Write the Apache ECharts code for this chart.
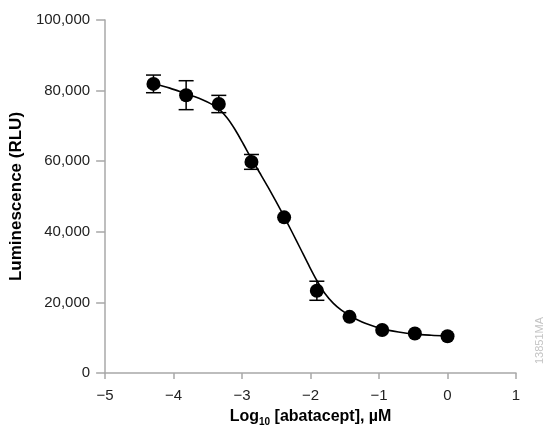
<!DOCTYPE html>
<html lang="en">
  <head>
    <meta charset="UTF-8" />
    <title>Abatacept dose response</title>
    <style>
      html,
      body {
        margin: 0;
        padding: 0;
        background: #fff;
      }

      #main {
        width: 544px;
        height: 438px;
      }
    </style>
  </head>

  <body>
    <div id="main"></div>

    <script src="https://cdn.jsdelivr.net/npm/echarts@6/dist/echarts.min.js"></script>
    <script>
      // measured points (log10 of concentration, 3-fold dilutions)
      var logConc = [-4.294, -3.817, -3.34, -2.863, -2.386, -1.908, -1.431, -0.954, -0.477, 0];
      var meanRLU = [81900, 78700, 76200, 59800, 44100, 23300, 15900, 12200, 11200, 10400];
      var errRLU = [2500, 4100, 2450, 2100, 0, 2700, 0, 0, 0, 0];

      // fitted curve
      var curveX = [-4.294, -4.055, -3.817, -3.698, -3.579, -3.46, -3.34, -3.22, -3.101, -2.98,
        -2.863, -2.745, -2.625, -2.505, -2.386, -2.267, -2.147, -2.028, -1.908, -1.79,
        -1.67, -1.55, -1.431, -1.31, -1.192, -0.954, -0.716, -0.477, -0.239, 0];
      var curveY = [82000, 80700, 79100, 78300, 77400, 76300, 74800, 72300, 68900, 64800,
        60700, 56800, 52800, 48600, 44300, 39800, 35200, 30600, 26200, 22500,
        19800, 17800, 16300, 15000, 14000, 12500, 11600, 11000, 10700, 10500];

      var xTicks = [-5, 1, 1]; // min, max, step
      var yTicks = [0, 100000, 20000];

      var axisGrey = "#a8a8a8";
      var labelFont = "'Liberation Sans', Arial, sans-serif";

      var chart = echarts.init(document.getElementById("main"), null, { renderer: "canvas" });

      var points = logConc.map((x, i) => [x, meanRLU[i]]);
      var bars = logConc
        .map((x, i) => [x, meanRLU[i] - errRLU[i], meanRLU[i] + errRLU[i]])
        .filter((d, i) => errRLU[i] > 0);
      var curve = curveX.map((x, i) => [x, curveY[i]]);

      function renderBar(params, api) {
        var lo = api.coord([api.value(0), api.value(1)]);
        var hi = api.coord([api.value(0), api.value(2)]);
        var w = 7.5;
        var style = { stroke: "#000", lineWidth: 1.5 };
        return {
          type: "group",
          children: [
            { type: "line", shape: { x1: lo[0], y1: lo[1], x2: hi[0], y2: hi[1] }, style: style },
            { type: "line", shape: { x1: lo[0] - w, y1: lo[1], x2: lo[0] + w, y2: lo[1] }, style: style },
            { type: "line", shape: { x1: hi[0] - w, y1: hi[1], x2: hi[0] + w, y2: hi[1] }, style: style }
          ]
        };
      }

      chart.setOption({
        animation: false,
        backgroundColor: "#fff",
        grid: { left: 103, right: 28, top: 20, bottom: 65 },
        xAxis: {
          type: "value",
          min: xTicks[0],
          max: xTicks[1],
          interval: xTicks[2],
          name: "{b|Log}{s|10}{b| [abatacept], µM}",
          nameLocation: "middle",
          nameGap: 34,
          nameTextStyle: {
            rich: {
              b: { fontFamily: labelFont, fontWeight: "bold", fontSize: 16, color: "#000", lineHeight: 20 },
              s: { fontFamily: labelFont, fontWeight: "bold", fontSize: 10, color: "#000", lineHeight: 20, verticalAlign: "bottom", padding: [8, 0, 0, 0] }
            }
          },
          axisLine: { onZero: false, lineStyle: { color: axisGrey, width: 1.5 } },
          axisTick: { inside: false, length: 6, lineStyle: { color: axisGrey, width: 1.5 } },
          axisLabel: {
            margin: 15,
            fontFamily: labelFont,
            fontSize: 15,
            color: "#222",
            formatter: v => (v < 0 ? "\u2212" + Math.abs(v) : String(v))
          },
          splitLine: { show: false }
        },
        yAxis: {
          type: "value",
          min: yTicks[0],
          max: yTicks[1],
          interval: yTicks[2],
          name: "Luminescence (RLU)",
          nameLocation: "middle",
          nameGap: 67,
          nameTextStyle: { fontFamily: labelFont, fontWeight: "bold", fontSize: 17, color: "#000" },
          axisLine: { show: true, onZero: false, lineStyle: { color: axisGrey, width: 1.5 } },
          axisTick: { show: true, length: 9, lineStyle: { color: axisGrey, width: 1.5 } },
          axisLabel: {
            margin: 15,
            fontFamily: labelFont,
            fontSize: 15,
            color: "#222",
            formatter: v => v.toLocaleString("en-US")
          },
          splitLine: { show: false }
        },
        graphic: [
          {
            type: "text",
            left: 534,
            top: 317,
            rotation: Math.PI / 2,
            style: {
              text: "13851MA",
              fill: "#c4c4c4",
              font: "11px " + labelFont
            }
          }
        ],
        series: [
          {
            type: "line",
            data: curve,
            smooth: 0.3,
            showSymbol: false,
            lineStyle: { color: "#000", width: 1.6 },
            z: 2
          },
          {
            type: "custom",
            data: bars,
            renderItem: renderBar,
            z: 3
          },
          {
            type: "scatter",
            data: points,
            symbol: "circle",
            symbolSize: 14,
            itemStyle: { color: "#000", opacity: 1 },
            z: 4
          }
        ]
      });
    </script>
  </body>
</html>
